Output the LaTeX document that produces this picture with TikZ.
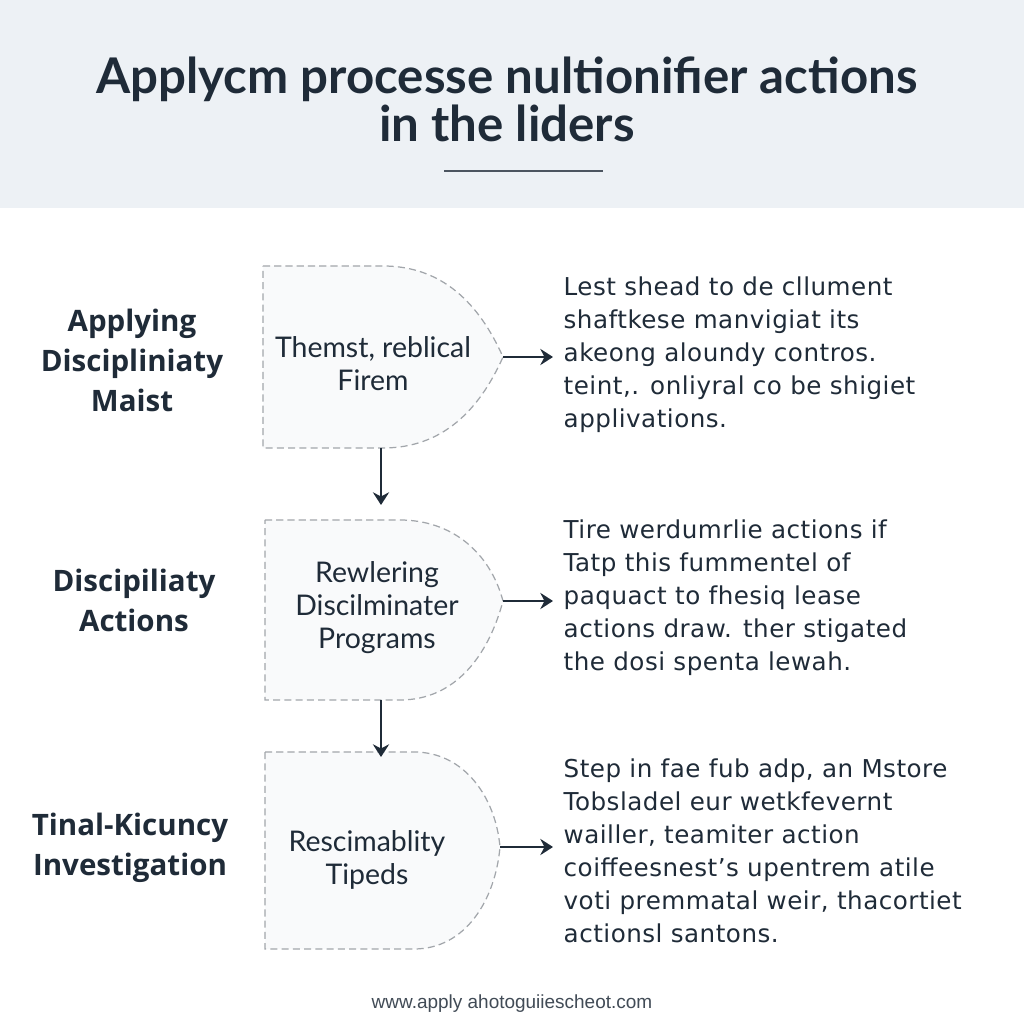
\documentclass[tikz,border=0pt]{standalone}
\usepackage{fontspec}
\setmainfont{Open Sans}
\newfontfamily\latofont{Lato}
\newfontfamily\descfont[LetterSpace=2]{DejaVu Sans}
\newfontfamily\webfont{Liberation Sans}
\usetikzlibrary{arrows.meta}
\definecolor{ink}{HTML}{1F2B38}
\definecolor{band}{HTML}{EDF1F5}
\definecolor{dashgray}{HTML}{A2A6AB}
\definecolor{boxfill}{HTML}{F9FAFB}
\tikzset{
  stage/.style={draw=dashgray,fill=boxfill,dash pattern=on 2pt off 1.2pt,line width=0.35pt},
  stagetext/.style={text=ink,align=center,font=\latofont\fontsize{8.1}{9.4}\selectfont},
  lbl/.style={text=ink,align=center,font=\bfseries\fontsize{8.4}{11.4}\selectfont},
  desc/.style={text=ink,align=left,anchor=west,inner xsep=0.1cm,font=\descfont\fontsize{7}{9.4}\selectfont},
  flow/.style={draw=ink,line width=0.85pt,-{Stealth[length=3.6pt,width=4.6pt]}},
}
\begin{document}
\begin{tikzpicture}
\useasboundingbox (0,0) rectangle (10.24,10.24);
\fill[white] (0,0) rectangle (10.24,10.24);
\fill[band] (0,8.16) rectangle (10.24,10.24);
\node[text=ink,align=center,font=\latofont\bfseries\fontsize{14}{13.6}\selectfont] (title) at (5.07,9.25) {Applycm processe nultionifier actions\\in the liders};
\draw[ink!80,line width=0.85pt] (4.44,8.53) -- (6.03,8.53);

\draw[stage] (2.63,7.58) -- (3.83,7.58) to[out=0,in=114] (5.03,6.67) coordinate(tip1) to[out=-114,in=0] (3.83,5.76) -- (2.63,5.76) -- cycle;
\draw[stage] (2.65,5.04) -- (4.00,5.04) to[out=0,in=105] (5.03,4.23) coordinate(tip2) to[out=-105,in=0] (4.00,3.24) -- (2.65,3.24) -- cycle;
\draw[stage] (2.65,2.72) -- (4.14,2.72) to[out=0,in=95] (5.00,1.77) coordinate(tip3) to[out=-95,in=0] (4.14,0.75) -- (2.65,0.75) -- cycle;
\coordinate (bot1) at (3.81,5.76);
\coordinate (top2) at (3.81,5.19);
\coordinate (bot2) at (3.81,3.24);
\coordinate (top3) at (3.81,2.67);

\node[stagetext] (s1) at (3.73,6.60) {Themst, reblical\\Firem};
\node[stagetext] (s2) at (3.77,4.16) {Rewlering\\Discilminater\\Programs};
\node[stagetext] (s3) at (3.67,1.64) {Rescimablity\\Tipeds};

\node[lbl] (l1) at (1.32,6.64) {Applying\\Discipliniaty\\Maist};
\node[lbl] (l2) at (1.34,4.24) {Discipiliaty\\Actions};
\node[lbl] (l3) at (1.30,1.76) {Tinal-Kicuncy\\Investigation};

\node[desc] (d1) at (5.53,6.69) {Lest shead to de cllument\\shaftkese manvigiat its\\akeong aloundy contros.\\teint,. onliyral co be shigiet\\applivations.};
\node[desc] (d2) at (5.53,4.26) {Tire werdumrlie actions if\\Tatp this fummentel of\\paquact to fhesiq lease\\actions draw. ther stigated\\the dosi spenta lewah.};
\node[desc] (d3) at (5.53,1.73) {Step in fae fub adp, an Mstore\\Tobsladel eur wetkfevernt\\wailler, teamiter action\\coiffeesnest’s upentrem atile\\voti premmatal weir, thacortiet\\actionsl santons.};

\draw[flow] (tip1) -- (tip1 -| d1.west);
\draw[flow] (tip2) -- (tip2 -| d2.west);
\draw[flow] (tip3) -- (tip3 -| d3.west);
\draw[flow] (bot1) -- (top2);
\draw[flow] (bot2) -- (top3);

\node[text=ink!85,font=\webfont\fontsize{5.4}{6}\selectfont] (site) at (5.12,0.20) {www.apply ahotoguiiescheot.com};
\end{tikzpicture}
\end{document}
